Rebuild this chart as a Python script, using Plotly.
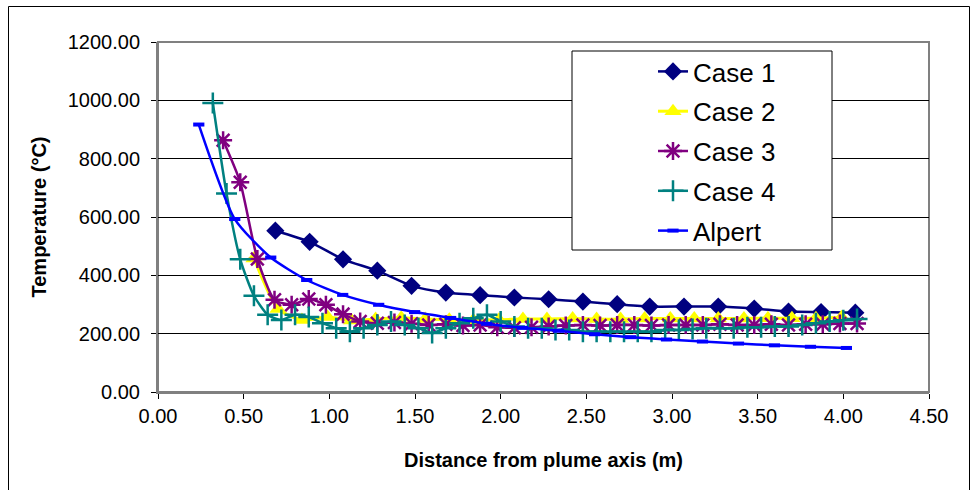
import plotly.graph_objects as go

# ---------------- data ----------------
case1_x = [0.685, 0.885, 1.08, 1.28, 1.48, 1.68, 1.88, 2.08, 2.28, 2.48, 2.68, 2.87,
           3.07, 3.27, 3.48, 3.68, 3.87, 4.07]
case1_y = [553, 515, 455, 416, 364, 341, 332, 324, 318, 310, 301, 293,
           293, 293, 286, 276, 274, 272]

case2_x = [0.56, 0.70, 0.84, 0.99, 1.13, 1.27, 1.42, 1.56, 1.70, 1.84, 1.99, 2.13, 2.27,
           2.42, 2.56, 2.70, 2.84, 2.99, 3.13, 3.27, 3.42, 3.56, 3.70, 3.84, 3.99]
case2_y = [458, 285, 247, 257, 245, 250, 255, 250, 248, 246, 248, 250, 250,
           252, 250, 250, 252, 252, 252, 252, 252, 253, 253, 253, 256]

case3_x = [0.38, 0.48, 0.58, 0.68, 0.78, 0.88, 0.98, 1.08, 1.18, 1.28, 1.38, 1.48, 1.58,
           1.68, 1.78, 1.88, 1.98, 2.08, 2.18, 2.28, 2.38, 2.48, 2.58, 2.68, 2.78, 2.88,
           2.98, 3.08, 3.18, 3.28, 3.38, 3.48, 3.58, 3.68, 3.78, 3.88, 3.98, 4.08]
case3_y = [863, 719, 456, 316, 299, 319, 299, 267, 242, 236, 238, 234, 230,
           232, 228, 230, 222, 220, 222, 225, 228, 230, 228, 230, 230, 228,
           230, 230, 230, 232, 230, 230, 232, 230, 232, 232, 235, 235]

case4_x = [0.32, 0.40, 0.48, 0.56, 0.64, 0.72, 0.80, 0.88, 0.96, 1.04, 1.12, 1.20, 1.28,
           1.36, 1.44, 1.52, 1.60, 1.68, 1.76, 1.84, 1.92, 2.00, 2.08, 2.16, 2.24, 2.32,
           2.40, 2.48, 2.56, 2.64, 2.72, 2.80, 2.88, 2.96, 3.04, 3.12, 3.20, 3.28, 3.36,
           3.44, 3.52, 3.60, 3.68, 3.76, 3.84, 3.92, 4.00, 4.08]
case4_y = [991, 681, 455, 330, 265, 247, 265, 257, 236, 219, 207, 219, 230,
           242, 230, 219, 202, 219, 236, 253, 265, 242, 225, 219, 219, 213,
           213, 207, 207, 207, 207, 207, 207, 213, 213, 216, 219, 219, 219,
           222, 222, 225, 225, 230, 236, 242, 246, 250]

alpert_x = [0.238, 0.448, 0.658, 0.868, 1.078, 1.288, 1.498, 1.708, 1.918, 2.128,
            2.338, 2.548, 2.758, 2.968, 3.178, 3.388, 3.598, 3.808, 4.018]
alpert_y = [917, 593, 461, 384, 333, 299, 274, 254, 234, 220,
            210, 198, 188, 180, 173, 166, 160, 155, 151]

x_ticks = [0.0, 0.5, 1.0, 1.5, 2.0, 2.5, 3.0, 3.5, 4.0, 4.5]
y_ticks = [0, 200, 400, 600, 800, 1000, 1200]

# ---------------- figure ----------------
W, H = 973, 490
ML, MR, MT, MB = 158, 44, 42, 98
PW, PH = W - ML - MR, H - MT - MB


def px2paper_x(px):
    return (px - ML) / PW


def px2paper_y(py):
    return (H - MB - py) / PH


fig = go.Figure()

fig.add_trace(go.Scatter(
    x=case1_x, y=case1_y, name="Case 1", mode="lines+markers", legendgroup="g1",
    line=dict(color="#000080", width=2.5, shape="spline", smoothing=0.6),
    marker=dict(symbol="diamond", size=14, color="#000080")))
fig.add_trace(go.Scatter(
    x=case2_x, y=case2_y, name="Case 2", mode="lines+markers", legendgroup="g2",
    line=dict(color="#FFFF00", width=3, shape="spline", smoothing=0.6),
    marker=dict(symbol="triangle-up", size=15, color="#FFFF00")))
fig.add_trace(go.Scatter(
    x=case3_x, y=case3_y, name="Case 3", mode="lines+markers", legendgroup="g3",
    line=dict(color="#800080", width=2.5, shape="spline", smoothing=0.6),
    marker=dict(symbol="asterisk-open", size=15, color="#800080",
                line=dict(color="#800080", width=2.5))))
fig.add_trace(go.Scatter(
    x=case4_x, y=case4_y, name="Case 4", mode="lines+markers", legendgroup="g4",
    line=dict(color="#008080", width=2.5, shape="spline", smoothing=0.6),
    marker=dict(symbol="cross-thin-open", size=15, color="#008080",
                line=dict(color="#008080", width=2.5))))
fig.add_trace(go.Scatter(
    x=alpert_x, y=alpert_y, name="Alpert", mode="lines+markers", legendgroup="g5",
    line=dict(color="#0000FF", width=2.5, shape="spline", smoothing=0.6),
    marker=dict(symbol="line-ew-open", size=8, color="#0000FF",
                line=dict(color="#0000FF", width=4))))

font_main = "Liberation Sans, Arial, sans-serif"

fig.update_layout(
    width=W, height=H,
    margin=dict(l=ML, r=MR, t=MT, b=MB, pad=0),
    paper_bgcolor="white", plot_bgcolor="white",
    showlegend=True,
    legend=dict(
        x=px2paper_x(653), y=px2paper_y(48), xanchor="left", yanchor="top",
        bgcolor="rgba(0,0,0,0)", borderwidth=0,
        font=dict(family=font_main, size=26, color="black"),
        traceorder="grouped", tracegroupgap=3,
    ),
    shapes=[
        # outer chart border
        dict(type="rect", xref="paper", yref="paper",
             x0=px2paper_x(8.5), x1=px2paper_x(969.5),
             y0=px2paper_y(500), y1=px2paper_y(6.5),
             line=dict(color="black", width=1), fillcolor="rgba(0,0,0,0)",
             layer="below"),
        # plot-area border (top and right)
        dict(type="rect", xref="paper", yref="paper", x0=0, x1=1, y0=0, y1=1,
             line=dict(color="#808080", width=2), fillcolor="rgba(0,0,0,0)",
             layer="below"),
        # legend box
        dict(type="rect", xref="paper", yref="paper",
             x0=px2paper_x(572), x1=px2paper_x(832),
             y0=px2paper_y(250), y1=px2paper_y(51),
             line=dict(color="black", width=1), fillcolor="white",
             layer="above"),
    ],
)

fig.update_xaxes(
    range=[0, 4.5], tickvals=x_ticks, tickformat=".2f",
    showgrid=False, zeroline=False,
    showline=True, linecolor="#808080", linewidth=2, mirror=False,
    ticks="outside", ticklen=5, tickcolor="#000000", tickwidth=1,
    ticklabelstandoff=0,
    tickfont=dict(family=font_main, size=20, color="black"),
    title=dict(text="<b>Distance from plume axis (m)</b>",
               font=dict(family=font_main, size=20, color="black"), standoff=27),
)
fig.update_yaxes(
    range=[0, 1200], tickvals=y_ticks, tickformat=".2f",
    showgrid=True, gridcolor="#000000", gridwidth=1, zeroline=False,
    showline=True, linecolor="#808080", linewidth=2, mirror=False,
    ticks="outside", ticklen=5, tickcolor="#000000", tickwidth=1,
    ticklabelstandoff=7,
    tickfont=dict(family=font_main, size=20, color="black"),
    title=dict(text="<b>Temperature (°C)</b>",
               font=dict(family=font_main, size=20, color="black"), standoff=16),
)

fig.write_html("out.html")
